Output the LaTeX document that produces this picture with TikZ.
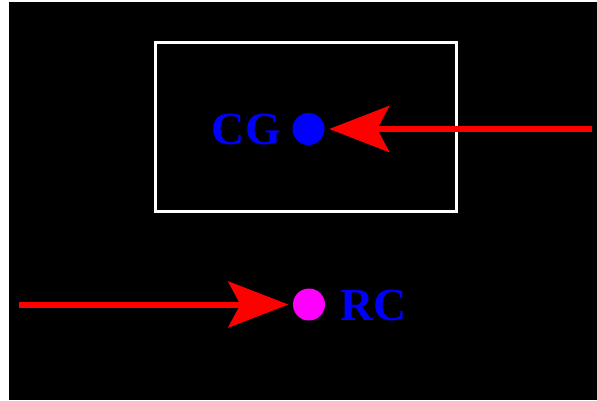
\documentclass[tikz,border=0pt]{standalone}
\usepackage{fontspec}
\setmainfont{Liberation Serif}
\usetikzlibrary{arrows.meta}
\definecolor{pureblue}{RGB}{0,0,255}
\definecolor{purered}{RGB}{255,0,0}
\definecolor{puremag}{RGB}{255,0,255}
\begin{document}
\begin{tikzpicture}[x=1pt,y=-1pt,
  lbl/.style={text=pureblue, inner sep=0pt, font=\fontsize{46}{46}\selectfont\bfseries},
  dot/.style={circle, inner sep=0pt, minimum size=32pt},
  force/.style={draw=purered, line width=6pt, shorten >=4.5pt,
    -{Stealth[length=60pt, width=46pt, inset=12pt, fill=purered]}},
  frame/.style={draw=white, line width=3.5pt, inner sep=0pt}]
\useasboundingbox (0,0) rectangle (597,400);
\fill[white] (0,0) rectangle (597,400);
\fill[black] (9,2) rectangle (597,400);
\node[frame, minimum width=301pt, minimum height=169pt] (box) at (306,127) {};
\node[dot, fill=pureblue] (cg) at (308.5,129) {};
\node[dot, fill=puremag] (rc) at (309,304.5) {};
\node[lbl, anchor=east] (cgl) at (281,129) {CG};
\node[lbl, anchor=west] (rcl) at (340,305) {RC};
\coordinate (s1) at (592,129);
\coordinate (s2) at (19,304.5);
\draw[force] (s1) -- (cg);
\draw[force] (s2) -- (rc);
\end{tikzpicture}
\end{document}
